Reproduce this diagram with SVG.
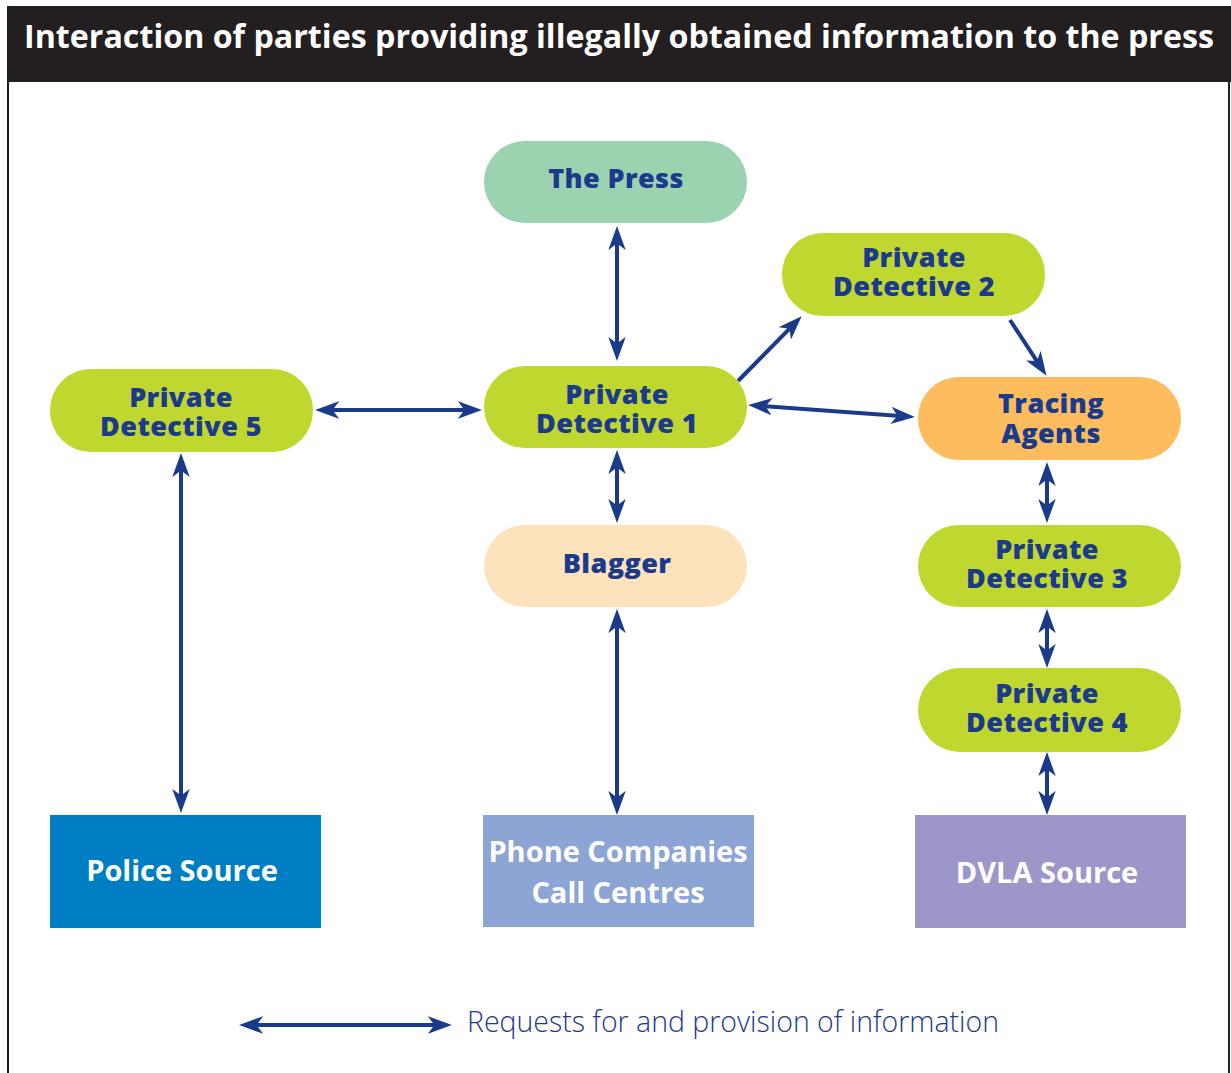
<svg xmlns="http://www.w3.org/2000/svg" width="1231" height="1073" viewBox="0 0 1231 1073">
<style>
.pill{stroke:none}
.lbl{font-family:"Open Sans","DejaVu Sans",sans-serif;font-weight:800;font-size:27px;letter-spacing:0.4px;fill:#1b3a8c;text-anchor:middle}
.wlbl{font-family:"Open Sans","DejaVu Sans",sans-serif;font-weight:700;font-size:29px;fill:#ffffff;text-anchor:middle}
.con{stroke:#1a3a8a;stroke-width:4;fill:none}
.title{font-family:"Open Sans","DejaVu Sans",sans-serif;font-weight:700;font-size:32px;fill:#ffffff}
.legend{font-family:"Open Sans","DejaVu Sans",sans-serif;font-weight:300;font-size:30px;fill:#1b3a8c}
</style>
<defs>
<marker id="ah" markerUnits="userSpaceOnUse" markerWidth="24" markerHeight="18" viewBox="0 0 22 16" refX="12" refY="8" orient="auto-start-reverse">
<path d="M0,0 L22,8 L0,16 L6,8 z" fill="#1a3a8a"/>
</marker>
</defs>
<rect x="0" y="0" width="1231" height="1073" fill="#ffffff"/>
<g id="frame">
<rect x="8" y="7" width="1221" height="1080" fill="none" stroke="#231f20" stroke-width="2"/>
<rect x="7" y="6" width="1224" height="76" fill="#231f20"/>
<text class="title" x="24" y="48" textLength="1190" lengthAdjust="spacingAndGlyphs">Interaction of parties providing illegally obtained information to the press</text>
</g>
<g id="connectors">
<line class="con" x1="617" y1="237" x2="617" y2="350" marker-start="url(#ah)" marker-end="url(#ah)"/>
<line class="con" x1="617" y1="461" x2="617" y2="512" marker-start="url(#ah)" marker-end="url(#ah)"/>
<line class="con" x1="617" y1="620" x2="617" y2="804" marker-start="url(#ah)" marker-end="url(#ah)"/>
<line class="con" x1="326" y1="410" x2="471" y2="410" marker-start="url(#ah)" marker-end="url(#ah)"/>
<line class="con" x1="181" y1="464" x2="181" y2="802" marker-start="url(#ah)" marker-end="url(#ah)"/>
<line class="con" x1="759" y1="405.7" x2="904" y2="416.3" marker-start="url(#ah)" marker-end="url(#ah)"/>
<line class="con" x1="738" y1="381" x2="794" y2="324.1" marker-end="url(#ah)"/>
<line class="con" x1="1010" y1="320" x2="1040.5" y2="366.6" marker-end="url(#ah)"/>
<line class="con" x1="1047" y1="473" x2="1047" y2="512" marker-start="url(#ah)" marker-end="url(#ah)"/>
<line class="con" x1="1047" y1="620" x2="1047" y2="657" marker-start="url(#ah)" marker-end="url(#ah)"/>
<line class="con" x1="1047" y1="763" x2="1047" y2="804" marker-start="url(#ah)" marker-end="url(#ah)"/>
</g>
<g id="press">
<rect class="pill" x="484" y="141" width="263" height="82" rx="41" fill="#9bd3b0"/>
<text class="lbl" x="616" y="188">The Press</text>
</g>
<g id="pd1">
<rect class="pill" x="484" y="366" width="263" height="82" rx="41" fill="#c0d72f"/>
<text class="lbl" x="617" y="404">Private</text>
<text class="lbl" x="617" y="433">Detective 1</text>
</g>
<g id="blagger">
<rect class="pill" x="484" y="525" width="263" height="82" rx="41" fill="#fde3bb"/>
<text class="lbl" x="617" y="573">Blagger</text>
</g>
<g id="pd5">
<rect class="pill" x="50" y="369" width="263" height="83" rx="41" fill="#c0d72f"/>
<text class="lbl" x="181" y="407">Private</text>
<text class="lbl" x="181" y="436">Detective 5</text>
</g>
<g id="pd2">
<rect class="pill" x="782" y="233" width="263" height="83" rx="41" fill="#c0d72f"/>
<text class="lbl" x="914" y="267">Private</text>
<text class="lbl" x="914" y="296">Detective 2</text>
</g>
<g id="tracing">
<rect class="pill" x="918" y="377" width="263" height="83" rx="41" fill="#fdbd5f"/>
<text class="lbl" x="1051" y="413">Tracing</text>
<text class="lbl" x="1051" y="443">Agents</text>
</g>
<g id="pd3">
<rect class="pill" x="918" y="525" width="263" height="82" rx="41" fill="#c0d72f"/>
<text class="lbl" x="1047" y="559">Private</text>
<text class="lbl" x="1047" y="588">Detective 3</text>
</g>
<g id="pd4">
<rect class="pill" x="918" y="668" width="263" height="84" rx="42" fill="#c0d72f"/>
<text class="lbl" x="1047" y="703">Private</text>
<text class="lbl" x="1047" y="732">Detective 4</text>
</g>
<g id="police">
<rect x="50" y="815" width="271" height="113" fill="#007ec4"/>
<text class="wlbl" x="182" y="881">Police Source</text>
</g>
<g id="phone">
<rect x="483" y="815" width="271" height="112" fill="#8ca5d4"/>
<text class="wlbl" x="618" y="862">Phone Companies</text>
<text class="wlbl" x="618" y="903">Call Centres</text>
</g>
<g id="dvla">
<rect x="915" y="815" width="271" height="113" fill="#9d96c8"/>
<text class="wlbl" x="1047" y="883">DVLA Source</text>
</g>
<g id="legend">
<line class="con" x1="250" y1="1025" x2="441" y2="1025" marker-start="url(#ah)" marker-end="url(#ah)"/>
<text class="legend" x="467" y="1032" textLength="532" lengthAdjust="spacingAndGlyphs">Requests for and provision of information</text>
</g>
</svg>
